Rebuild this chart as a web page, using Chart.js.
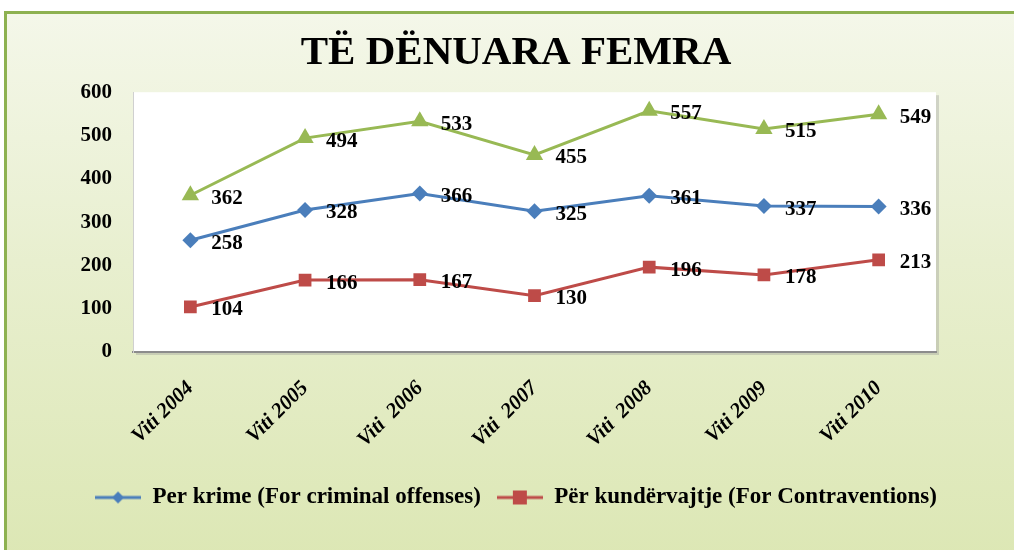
<!DOCTYPE html>
<html>
<head>
<meta charset="utf-8">
<script src="https://cdn.jsdelivr.net/npm/chart.js@4.4.1/dist/chart.umd.min.js"></script>
<style>
  html, body { margin: 0; padding: 0; background: #fff; }
  #wrap { position: relative; width: 1014px; height: 550px; overflow: hidden; }
  #panel {
    position: absolute; left: 4px; top: 11px; width: 1020px; height: 550px;
    border-top: 3px solid #8db150; border-left: 3px solid #8db150;
    background: linear-gradient(to bottom, #f4f7e9 0%, #e8efcf 45%, #dce7b4 100%);
  }
  #myChart { position: absolute; left: 0; top: 0; }
</style>
</head>
<body>
<div id="wrap">
  <div id="panel"></div>
  <canvas id="myChart" width="1014" height="550"></canvas>
</div>
<script>
const years = ['Viti 2004', 'Viti 2005', 'Viti  2006', 'Viti  2007', 'Viti  2008', 'Viti 2009', 'Viti 2010'];
const krime = [258, 328, 366, 325, 361, 337, 336];
const kundervajtje = [104, 166, 167, 130, 196, 178, 213];
const gjithsej = [362, 494, 533, 455, 557, 515, 549];
const yMax = 600;
const yStep = 100;

const blue = '#4a7ebb';
const red = '#be4b48';
const green = '#98b954';
const serif = "'Liberation Serif', 'Times New Roman', serif";

// legend icon: short line with the marker in the middle
function legendIcon(color, shape) {
  const c = document.createElement('canvas');
  c.width = 46; c.height = 16;
  const g = c.getContext('2d');
  g.strokeStyle = color;
  g.lineWidth = 3;
  g.beginPath();
  g.moveTo(0, 8);
  g.lineTo(46, 8);
  g.stroke();
  g.fillStyle = color;
  g.beginPath();
  if (shape === 'diamond') {
    g.moveTo(23, 2); g.lineTo(29, 8); g.lineTo(23, 14); g.lineTo(17, 8);
  } else {
    g.rect(16, 1, 14, 14);
  }
  g.closePath();
  g.fill();
  return c;
}
const icons = [legendIcon(blue, 'diamond'), legendIcon(red, 'square')];

const plotBackground = {
  id: 'plotBackground',
  beforeDraw(chart) {
    const a = chart.chartArea;
    const ctx = chart.ctx;
    ctx.save();
    ctx.fillStyle = 'rgba(150,150,150,0.35)';
    ctx.fillRect(a.left + 3, a.top + 3, a.right - a.left, a.bottom - a.top);
    ctx.fillStyle = '#ffffff';
    ctx.fillRect(a.left, a.top, a.right - a.left, a.bottom - a.top);
    ctx.restore();
  }
};

const valueLabels = {
  id: 'valueLabels',
  afterDatasetsDraw(chart) {
    const ctx = chart.ctx;
    ctx.save();
    ctx.font = 'bold 21px ' + serif;
    ctx.fillStyle = '#000';
    ctx.textAlign = 'left';
    ctx.textBaseline = 'middle';
    chart.data.datasets.forEach((ds, i) => {
      chart.getDatasetMeta(i).data.forEach((pt, j) => {
        ctx.fillText(String(ds.data[j]), pt.x + 21, pt.y + 3);
      });
    });
    ctx.restore();
  }
};

var ctx = document.getElementById('myChart').getContext('2d');
let myChart = new Chart(ctx, {
  type: 'line',
  data: {
    labels: years,
    datasets: [{
      label: 'Per krime (For criminal offenses)',
      data: krime,
      borderColor: blue,
      backgroundColor: blue,
      borderWidth: 3,
      pointStyle: 'rectRot',
      pointRadius: 8,
      pointBorderWidth: 0,
      fill: false
    }, {
      label: 'Për kundërvajtje (For Contraventions)',
      data: kundervajtje,
      borderColor: red,
      backgroundColor: red,
      borderWidth: 3,
      pointStyle: 'rect',
      pointRadius: 9,
      pointBorderWidth: 0,
      fill: false
    }, {
      label: 'Gjithsej',
      data: gjithsej,
      borderColor: green,
      backgroundColor: green,
      borderWidth: 3,
      pointStyle: 'triangle',
      pointRadius: 10,
      pointBorderWidth: 0,
      fill: false
    }]
  },
  options: {
    responsive: false,
    animation: false,
    layout: {
      padding: { left: 18, right: 0, top: 0, bottom: 31 }
    },
    scales: {
      x: {
        offset: true,
        grid: { display: false },
        border: { display: true, color: '#8c8c8c', width: 2 },
        ticks: {
          color: '#000',
          font: { family: serif, size: 21, style: 'italic', weight: 'bold' },
          minRotation: 45,
          maxRotation: 45,
          padding: 16
        },
        afterFit: (scale) => { scale.height = 118; }
      },
      y: {
        min: 0,
        max: yMax,
        grid: { display: false },
        border: { display: true, color: '#d0d0d0', width: 1 },
        ticks: {
          stepSize: yStep,
          color: '#000',
          font: { family: serif, size: 21, weight: 'bold' },
          padding: 13
        },
        afterFit: (scale) => { scale.width = 115; }
      },
      // empty right-hand scale, only keeps the space right of the plot
      yRight: {
        position: 'right',
        display: true,
        grid: { display: false },
        border: { display: false },
        ticks: { display: false },
        afterFit: (scale) => { scale.width = 78; }
      }
    },
    plugins: {
      title: {
        display: true,
        text: 'TË DËNUARA FEMRA',
        color: '#000',
        font: { family: serif, size: 41, weight: 'bold' },
        padding: { top: 29, bottom: 14 }
      },
      legend: {
        position: 'bottom',
        labels: {
          color: '#000',
          font: { family: serif, size: 23, weight: 'bold' },
          usePointStyle: true,
          pointStyleWidth: 46,
          padding: 16,
          filter: (item) => item.datasetIndex < 2,
          generateLabels: (chart) => {
            const items = Chart.defaults.plugins.legend.labels.generateLabels(chart);
            items.forEach(it => { if (it.datasetIndex < 2) it.pointStyle = icons[it.datasetIndex]; });
            return items;
          }
        }
      },
      tooltip: { enabled: false }
    }
  },
  plugins: [plotBackground, valueLabels]
});
</script>
</body>
</html>
